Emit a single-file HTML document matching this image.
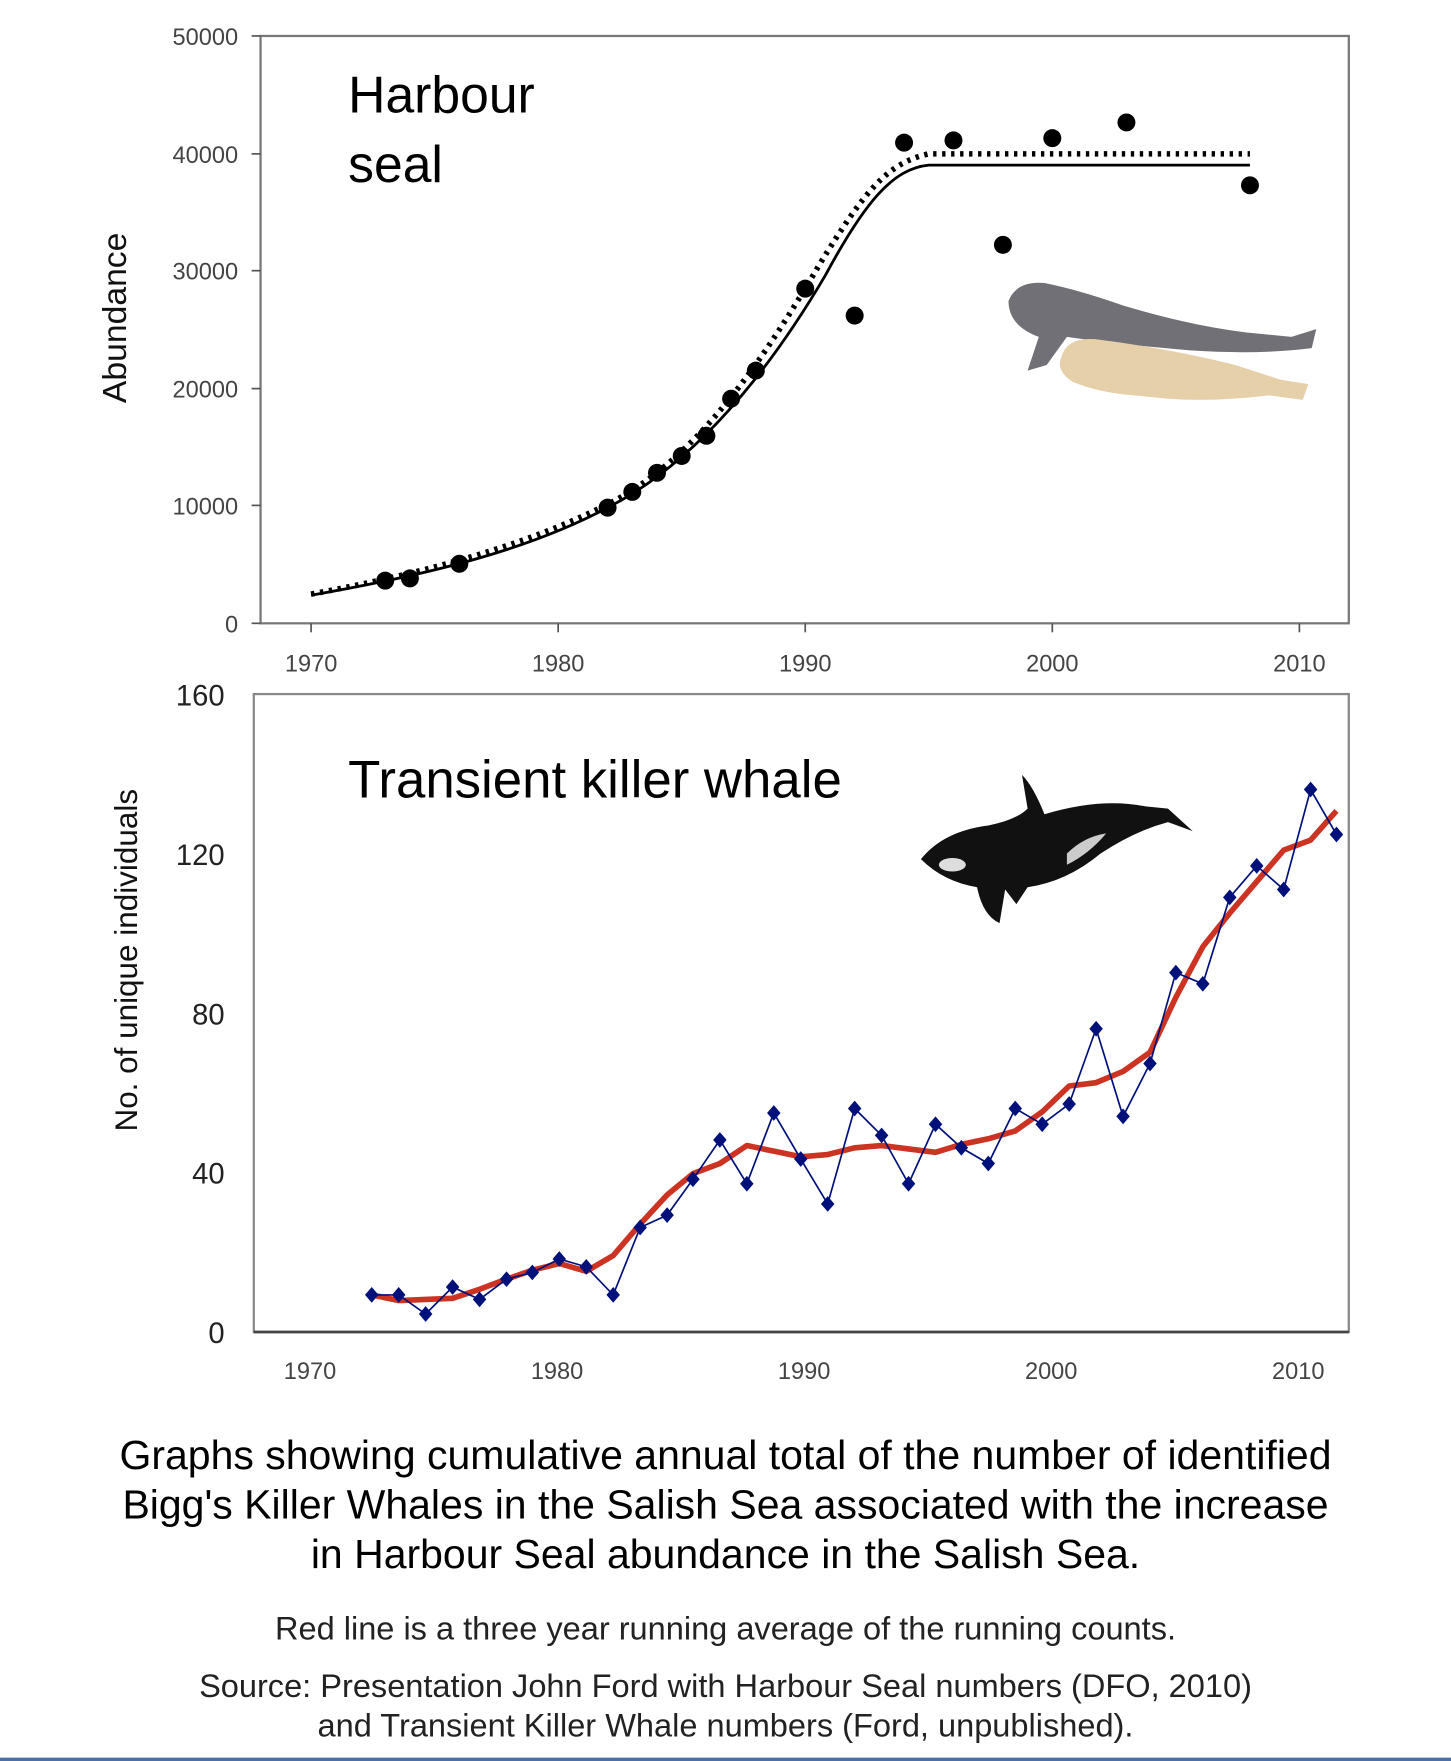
<!DOCTYPE html>
<html><head><meta charset="utf-8"><style>html,body{margin:0;padding:0;background:#fff}svg{display:block}</style></head>
<body>
<svg width="1451" height="1761" viewBox="0 0 1292 1568" xmlns="http://www.w3.org/2000/svg" font-family="Liberation Sans, sans-serif">
<rect width="1292" height="1568" fill="#fff"/>
<!-- Top chart -->
<rect x="232" y="32" width="969" height="523" fill="none" stroke="#777" stroke-width="2"/>
<g stroke="#555" stroke-width="1.5">
<line x1="224" y1="32" x2="232" y2="32"/><line x1="224" y1="137" x2="232" y2="137"/><line x1="224" y1="241" x2="232" y2="241"/><line x1="224" y1="346" x2="232" y2="346"/><line x1="224" y1="450" x2="232" y2="450"/><line x1="224" y1="555" x2="232" y2="555"/>
<line x1="277" y1="555" x2="277" y2="563"/><line x1="497" y1="555" x2="497" y2="563"/><line x1="717" y1="555" x2="717" y2="563"/><line x1="937" y1="555" x2="937" y2="563"/><line x1="1157" y1="555" x2="1157" y2="563"/>
</g>
<g font-size="21" fill="#444" text-anchor="end">
<text x="212" y="40">50000</text><text x="212" y="145">40000</text><text x="212" y="249">30000</text><text x="212" y="354">20000</text><text x="212" y="458">10000</text><text x="212" y="563">0</text>
</g>
<g font-size="21" fill="#444" text-anchor="middle">
<text x="277" y="598">1970</text><text x="497" y="598">1980</text><text x="717" y="598">1990</text><text x="937" y="598">2000</text><text x="1157" y="598">2010</text>
</g>
<text transform="translate(112,283) rotate(-90)" font-size="30" text-anchor="middle" fill="#111">Abundance</text>
<text x="310" y="100" font-size="46" fill="#000">Harbour</text>
<text x="310" y="162" font-size="46" fill="#000">seal</text>
<path fill="none" stroke="#000" stroke-width="5" stroke-dasharray="3,5" d="M277,529 C380,510 470,485 541,449 C620,410 680,320 730,235 C770,170 790,145 827,137 L1113,137"/>
<path fill="none" stroke="#000" stroke-width="2.5" d="M277,530 C380,512 470,490 541,452 C620,412 685,330 735,245 C770,180 795,150 827,147 L1113,147"/>
<g fill="#000">
<circle cx="343" cy="517" r="8"/><circle cx="365" cy="515" r="8"/><circle cx="409" cy="502" r="8"/><circle cx="541" cy="452" r="8"/><circle cx="563" cy="438" r="8"/><circle cx="585" cy="421" r="8"/><circle cx="607" cy="406" r="8"/><circle cx="629" cy="388" r="8"/><circle cx="651" cy="355" r="8"/><circle cx="673" cy="330" r="8"/><circle cx="717" cy="257" r="8"/><circle cx="761" cy="281" r="8"/><circle cx="805" cy="127" r="8"/><circle cx="849" cy="125" r="8"/><circle cx="893" cy="218" r="8"/><circle cx="937" cy="123" r="8"/><circle cx="1003" cy="109" r="8"/><circle cx="1113" cy="165" r="8"/>
</g>
<!-- seals -->
<path d="M898,268 Q905,250 930,252 Q960,258 1000,272 Q1060,290 1110,296 L1150,300 L1172,293 L1168,310 Q1120,316 1060,312 Q990,306 950,300 L932,325 L915,330 L925,300 Q898,290 898,268 Z" fill="#707076"/>
<path d="M945,318 Q950,300 975,302 Q1040,310 1100,325 L1140,338 L1165,342 L1160,356 L1130,352 Q1080,358 1040,355 L1010,352 Q980,350 955,340 Q940,330 945,318 Z" fill="#e6d0aa"/>
<!-- Bottom chart -->
<rect x="226" y="618" width="975" height="568" fill="none" stroke="#888" stroke-width="2"/>
<line x1="226" y1="1186" x2="1201" y2="1186" stroke="#444" stroke-width="2.5"/>
<g font-size="26" fill="#222" text-anchor="end">
<text x="200" y="628">160</text><text x="200" y="770">120</text><text x="200" y="912">80</text><text x="200" y="1054">40</text><text x="200" y="1196">0</text>
</g>
<g font-size="21" fill="#444" text-anchor="middle">
<text x="276" y="1228">1970</text><text x="496" y="1228">1980</text><text x="716" y="1228">1990</text><text x="936" y="1228">2000</text><text x="1156" y="1228">2010</text>
</g>
<text transform="translate(122,855) rotate(-90)" font-size="28" text-anchor="middle" fill="#111">No. of unique individuals</text>
<text x="310" y="710" font-size="47" fill="#000">Transient killer whale</text>
<!-- orca -->
<path d="M820,765 Q840,740 880,735 Q905,730 915,720 L910,690 Q920,700 930,725 Q980,710 1020,718 L1040,720 L1062,740 L1040,732 Q1010,740 980,760 Q950,785 915,790 L905,805 L895,792 L890,822 Q875,815 870,790 Q840,785 820,765 Z" fill="#111"/>
<ellipse cx="848" cy="770" rx="12" ry="6" fill="#ddd"/>
<path d="M950,760 Q965,745 985,742 Q970,760 950,770 Z" fill="#ccc"/>
<polyline fill="none" stroke="#cc3322" stroke-width="5" stroke-linejoin="round" points="331,1153 355,1158 379,1157 403,1156 427,1148 451,1139 474,1131 498,1125 522,1132 546,1118 570,1090 594,1064 617,1045 641,1036 665,1020 689,1025 713,1030 737,1028 761,1022 785,1020 809,1023 833,1026 856,1019 880,1014 904,1007 928,990 952,967 976,964 1000,954 1024,937 1047,888 1071,843 1095,813 1119,785 1143,757 1167,748 1190,722"/>
<polyline fill="none" stroke="#00107a" stroke-width="1.5" points="331,1153 355,1153 379,1170 403,1146 427,1157 451,1139 474,1133 498,1121 522,1128 546,1153 570,1093 594,1082 617,1050 641,1015 665,1054 689,991 713,1032 737,1072 761,987 785,1011 809,1054 833,1001 856,1022 880,1036 904,987 928,1001 952,983 976,916 1000,994 1024,947 1047,866 1071,876 1095,799 1119,771 1143,792 1167,703 1190,743"/>
<g fill="#00107a">
<path d="M0,-7 L6,0 L0,7 L-6,0 Z" transform="translate(331,1153)"/>
<path d="M0,-7 L6,0 L0,7 L-6,0 Z" transform="translate(355,1153)"/><path d="M0,-7 L6,0 L0,7 L-6,0 Z" transform="translate(379,1170)"/><path d="M0,-7 L6,0 L0,7 L-6,0 Z" transform="translate(403,1146)"/><path d="M0,-7 L6,0 L0,7 L-6,0 Z" transform="translate(427,1157)"/><path d="M0,-7 L6,0 L0,7 L-6,0 Z" transform="translate(451,1139)"/><path d="M0,-7 L6,0 L0,7 L-6,0 Z" transform="translate(474,1133)"/><path d="M0,-7 L6,0 L0,7 L-6,0 Z" transform="translate(498,1121)"/><path d="M0,-7 L6,0 L0,7 L-6,0 Z" transform="translate(522,1128)"/><path d="M0,-7 L6,0 L0,7 L-6,0 Z" transform="translate(546,1153)"/><path d="M0,-7 L6,0 L0,7 L-6,0 Z" transform="translate(570,1093)"/><path d="M0,-7 L6,0 L0,7 L-6,0 Z" transform="translate(594,1082)"/><path d="M0,-7 L6,0 L0,7 L-6,0 Z" transform="translate(617,1050)"/><path d="M0,-7 L6,0 L0,7 L-6,0 Z" transform="translate(641,1015)"/><path d="M0,-7 L6,0 L0,7 L-6,0 Z" transform="translate(665,1054)"/><path d="M0,-7 L6,0 L0,7 L-6,0 Z" transform="translate(689,991)"/><path d="M0,-7 L6,0 L0,7 L-6,0 Z" transform="translate(713,1032)"/><path d="M0,-7 L6,0 L0,7 L-6,0 Z" transform="translate(737,1072)"/><path d="M0,-7 L6,0 L0,7 L-6,0 Z" transform="translate(761,987)"/><path d="M0,-7 L6,0 L0,7 L-6,0 Z" transform="translate(785,1011)"/><path d="M0,-7 L6,0 L0,7 L-6,0 Z" transform="translate(809,1054)"/><path d="M0,-7 L6,0 L0,7 L-6,0 Z" transform="translate(833,1001)"/><path d="M0,-7 L6,0 L0,7 L-6,0 Z" transform="translate(856,1022)"/><path d="M0,-7 L6,0 L0,7 L-6,0 Z" transform="translate(880,1036)"/><path d="M0,-7 L6,0 L0,7 L-6,0 Z" transform="translate(904,987)"/><path d="M0,-7 L6,0 L0,7 L-6,0 Z" transform="translate(928,1001)"/><path d="M0,-7 L6,0 L0,7 L-6,0 Z" transform="translate(952,983)"/><path d="M0,-7 L6,0 L0,7 L-6,0 Z" transform="translate(976,916)"/><path d="M0,-7 L6,0 L0,7 L-6,0 Z" transform="translate(1000,994)"/><path d="M0,-7 L6,0 L0,7 L-6,0 Z" transform="translate(1024,947)"/><path d="M0,-7 L6,0 L0,7 L-6,0 Z" transform="translate(1047,866)"/><path d="M0,-7 L6,0 L0,7 L-6,0 Z" transform="translate(1071,876)"/><path d="M0,-7 L6,0 L0,7 L-6,0 Z" transform="translate(1095,799)"/><path d="M0,-7 L6,0 L0,7 L-6,0 Z" transform="translate(1119,771)"/><path d="M0,-7 L6,0 L0,7 L-6,0 Z" transform="translate(1143,792)"/><path d="M0,-7 L6,0 L0,7 L-6,0 Z" transform="translate(1167,703)"/><path d="M0,-7 L6,0 L0,7 L-6,0 Z" transform="translate(1190,743)"/>
</g>
<!-- captions -->
<g text-anchor="middle" fill="#000">
<text x="646" y="1308" font-size="36.5">Graphs showing cumulative annual total of the number of identified</text>
<text x="646" y="1352" font-size="36.5">Bigg's Killer Whales in the Salish Sea associated with the increase</text>
<text x="646" y="1396" font-size="36.5">in Harbour Seal abundance in the Salish Sea.</text>
<text x="646" y="1460" font-size="29" fill="#222">Red line is a three year running average of the running counts.</text>
<text x="646" y="1511" font-size="29" fill="#222">Source: Presentation John Ford with Harbour Seal numbers (DFO, 2010)</text>
<text x="646" y="1546" font-size="29" fill="#222">and Transient Killer Whale numbers (Ford, unpublished).</text>
</g>
<rect x="0" y="1565" width="1292" height="3" fill="#4a6fa5"/>
</svg>
</body></html>
